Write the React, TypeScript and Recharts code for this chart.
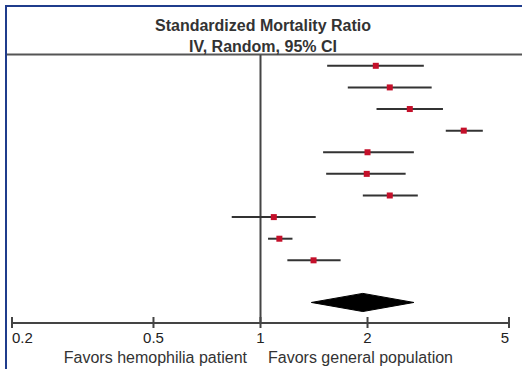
import { ScatterChart, Scatter, XAxis, YAxis, ErrorBar, ReferenceLine } from 'recharts';

// study rows (top to bottom), SMR point estimates and 95% CI bounds
const studyRows = [1, 2, 3, 4, 5, 6, 7, 8, 9, 10];
const smrEstimates = [2.11, 2.31, 2.63, 3.73, 2.0, 1.99, 2.31, 1.09, 1.13, 1.41];
const ciLower = [1.54, 1.76, 2.12, 3.32, 1.5, 1.53, 1.94, 0.83, 1.05, 1.19];
const ciUpper = [2.88, 3.03, 3.26, 4.22, 2.7, 2.56, 2.77, 1.43, 1.23, 1.68];

// pooled (random effects) estimate
const pooledRow = 11.95;
const pooledEstimate = 1.94;
const pooledLower = 1.39;
const pooledUpper = 2.7;
const diamondHalfHeight = 0.42;

const xTicks = [0.2, 0.5, 1, 2, 5];

const FONT = '"Liberation Sans", Arial, sans-serif';

const studyData = studyRows.map((row, i) => ({
  x: smrEstimates[i],
  y: row,
  err: [smrEstimates[i] - ciLower[i], ciUpper[i] - smrEstimates[i]],
}));

const diamondData = [
  { x: pooledLower, y: pooledRow },
  { x: pooledEstimate, y: pooledRow - diamondHalfHeight },
  { x: pooledUpper, y: pooledRow },
  { x: pooledEstimate, y: pooledRow + diamondHalfHeight },
];

const RedSquare = (props: any) => {
  const { cx, cy } = props;
  return <rect x={cx - 3} y={cy - 3} width={6} height={6} fill="#c4102a" />;
};

const LogTick = (props: any) => {
  const { x, y, payload, index } = props;
  const anchor = index === 0 ? 'start' : index === xTicks.length - 1 ? 'end' : 'middle';
  return (
    <g>
      <line x1={x} x2={x} y1={y - 6} y2={y + 5} stroke="#444" strokeWidth={2} />
      <text x={x} y={y + 20} textAnchor={anchor} fontSize={15} fill="#222" fontFamily={FONT}>
        {payload.value}
      </text>
    </g>
  );
};

const Diamond = (props: any) => {
  const pts = (props.points || []).map((p: any) => `${p.x},${p.y}`).join(' ');
  return <polygon points={pts} fill="#000" stroke="#000" strokeWidth={1} />;
};

export default function App() {
  return (
    <div style={{ position: 'absolute', left: 0, top: 0, width: 522, height: 369, background: '#fff' }}>
      <svg width={522} height={369} style={{ position: 'absolute', left: 0, top: 0 }}>
        <line x1={6} x2={6} y1={5} y2={369} stroke="#1f3c8c" strokeWidth={2} />
        <line x1={5} x2={522} y1={6} y2={6} stroke="#1f3c8c" strokeWidth={2} />
        <line x1={7} x2={522} y1={54.5} y2={54.5} stroke="#555" strokeWidth={2} />
        <text x={263} y={31} textAnchor="middle" fontSize={16} fontWeight="bold" fill="#333" fontFamily={FONT}>
          Standardized Mortality Ratio
        </text>
        <text x={263} y={52} textAnchor="middle" fontSize={16} fontWeight="bold" fill="#333" fontFamily={FONT}>
          IV, Random, 95% CI
        </text>
        <text x={247} y={363} textAnchor="end" fontSize={16} fill="#333" fontFamily={FONT}>
          Favors hemophilia patient
        </text>
        <text x={268} y={363} textAnchor="start" fontSize={16} fill="#333" fontFamily={FONT}>
          Favors general population
        </text>
      </svg>
      <div style={{ position: 'absolute', left: 0, top: 0 }}>
        <ScatterChart width={522} height={369} margin={{ top: 55, right: 13, bottom: 0, left: 12 }}>
          <XAxis
            type="number"
            dataKey="x"
            scale="log"
            domain={[0.2, 5]}
            ticks={xTicks}
            interval={0}
            allowDataOverflow
            height={46}
            axisLine={{ stroke: '#444', strokeWidth: 2 }}
            tickLine={false}
            tickSize={0}
            tickMargin={0}
            tick={<LogTick />}
          />
          <YAxis type="number" dataKey="y" domain={[0.5, 12.9]} reversed hide allowDataOverflow />
          <ReferenceLine x={1} stroke="#444" strokeWidth={2} />
          <Scatter data={studyData} shape={<RedSquare />} isAnimationActive={false}>
            <ErrorBar dataKey="err" direction="x" width={0} stroke="#333" strokeWidth={2} />
          </Scatter>
          <Scatter
            data={diamondData}
            shape={() => <g />}
            line={(p: any) => <Diamond {...p} />}
            isAnimationActive={false}
          />
        </ScatterChart>
      </div>
    </div>
  );
}
